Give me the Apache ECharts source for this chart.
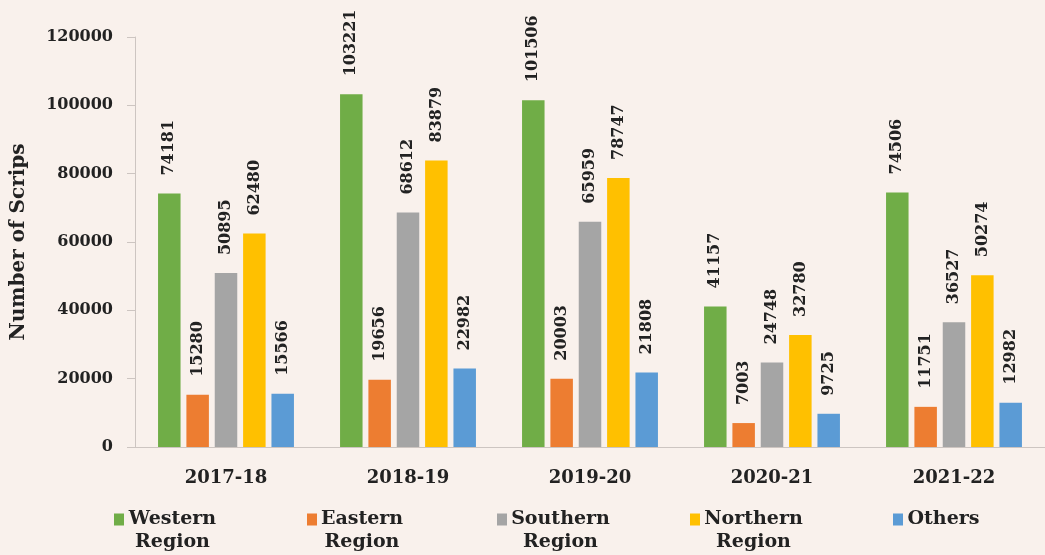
<!DOCTYPE html>
<html>
<head>
<meta charset="utf-8">
<script src="https://cdn.jsdelivr.net/npm/echarts@6/dist/echarts.min.js"></script>
<style>
  html, body { margin: 0; padding: 0; background: #f9f1ec; }
  #main { width: 1045px; height: 555px; }
</style>
</head>
<body>
<div id="main"></div>
<script>
var years = ['2017-18', '2018-19', '2019-20', '2020-21', '2021-22'];
var western = [74181, 103221, 101506, 41157, 74506];
var eastern = [15280, 19656, 20003, 7003, 11751];
var southern = [50895, 68612, 65959, 24748, 36527];
var northern = [62480, 83879, 78747, 32780, 50274];
var others = [15566, 22982, 21808, 9725, 12982];
var yTicks = [0, 20000, 40000, 60000, 80000, 100000, 120000];

var font = 'DejaVu Serif';
var names = ['Western', 'Eastern', 'Southern', 'Northern', 'Others'];
var secondLine = ['Region', 'Region', 'Region', 'Region', ' '];
var colors = ['#70ad47', '#ed7d31', '#a5a5a5', '#ffc000', '#5b9bd5'];
var values = [western, eastern, southern, northern, others];
var legendLeft = [109, 302, 492, 685, 888];
var legendWidth = [87, 80, 97, 97, 71];

var series = names.map(function (n, i) {
  return {
    name: n,
    type: 'bar',
    data: values[i],
    barWidth: 22.5,
    barGap: '26%',
    itemStyle: { color: colors[i] },
    label: {
      show: true,
      position: 'top',
      rotate: 90,
      align: 'left',
      verticalAlign: 'middle',
      distance: 18,
      fontFamily: font,
      fontWeight: 'bold',
      fontSize: 16,
      color: '#222'
    }
  };
});

var legends = names.map(function (n, i) {
  return {
    data: [n],
    left: legendLeft[i],
    top: 505,
    itemWidth: 10,
    itemHeight: 35,
    icon: 'path://M0,0L10,0L10,12L0,12Z M0,35L0.01,35L0.01,34.99Z',
    formatter: function (name) {
      return '{t|' + name + '}\n{t|' + secondLine[i] + '}';
    },
    textStyle: {
      rich: {
        t: {
          fontFamily: font, fontWeight: 'bold', fontSize: 19, color: '#222',
          lineHeight: 23, width: legendWidth[i], align: 'center'
        }
      }
    }
  };
});

var myChart = echarts.init(document.getElementById('main'));
myChart.setOption({
  backgroundColor: '#f9f1ec',
  animation: false,
  grid: { left: 135, width: 918, top: 37, bottom: 108 },
  legend: legends,
  xAxis: {
    type: 'category',
    data: years,
    axisLine: { lineStyle: { color: '#cdc5c1' } },
    axisTick: { show: false },
    axisLabel: { fontFamily: font, fontWeight: 'bold', fontSize: 18, color: '#222', margin: 22 }
  },
  yAxis: {
    type: 'value',
    min: yTicks[0],
    max: yTicks[yTicks.length - 1],
    interval: yTicks[1] - yTicks[0],
    name: 'Number of Scrips',
    nameLocation: 'middle',
    nameGap: 106,
    nameTextStyle: { fontFamily: font, fontWeight: 'bold', fontSize: 20, color: '#222' },
    axisLine: { show: true, lineStyle: { color: '#cdc5c1' } },
    axisTick: { show: true, length: 8, lineStyle: { color: '#cdc5c1' } },
    splitLine: { show: false },
    axisLabel: {
      fontFamily: font, fontWeight: 'bold', fontSize: 16, color: '#222', margin: 22,
      formatter: function (v) { return String(v); }
    }
  },
  series: series
});
</script>
</body>
</html>
